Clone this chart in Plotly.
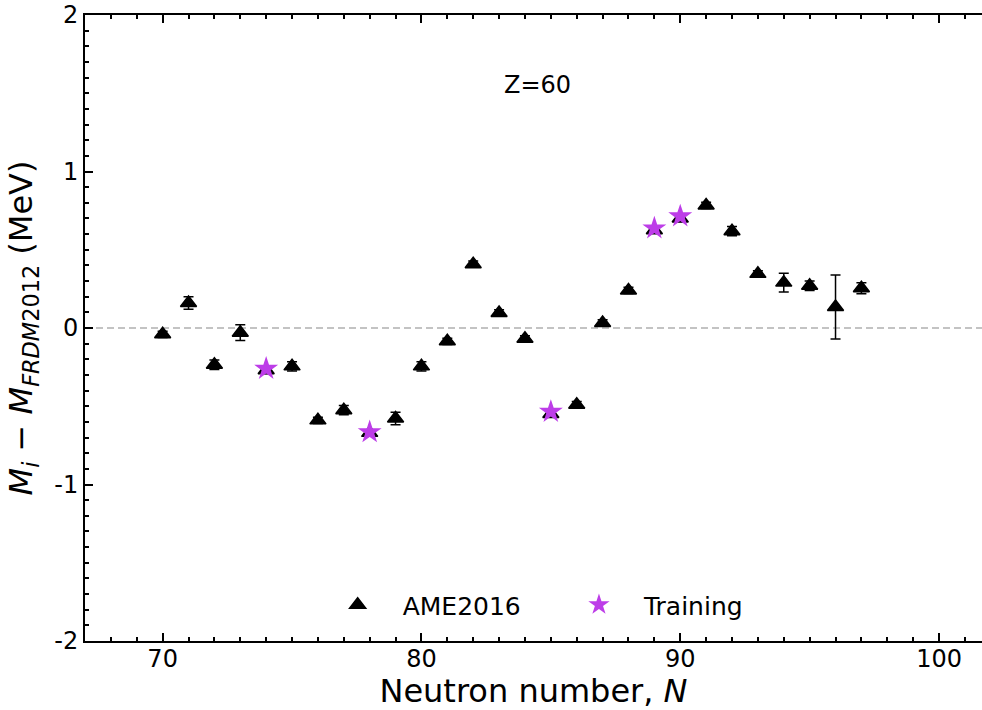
import plotly.graph_objects as go

# ---- data ----
ame_n = [70, 71, 72, 73, 74, 75, 76, 77, 78, 79, 80, 81, 82, 83,
         84, 85, 86, 87, 88, 89, 90, 91, 92, 93, 94, 95, 96, 97]
ame_val = [-0.04, 0.16, -0.235, -0.03, -0.27, -0.245, -0.59, -0.525, -0.67, -0.578,
           -0.245, -0.085, 0.408, 0.096, -0.069, -0.55, -0.49, 0.032, 0.24, 0.625,
           0.70, 0.783, 0.619, 0.346, 0.29, 0.27, 0.134, 0.254]
ame_err = [0.02, 0.04, 0.03, 0.05, 0.02, 0.03, 0.02, 0.03, 0.02, 0.04,
           0.03, 0.02, 0.02, 0.02, 0.02, 0.02, 0.02, 0.02, 0.02, 0.02,
           0.02, 0.02, 0.03, 0.02, 0.06, 0.03, 0.205, 0.035]

train_n = [74, 78, 85, 89, 90]
train_val = [-0.26, -0.665, -0.535, 0.637, 0.714]

y_tickvals = [-2, -1, 0, 1, 2]
y_ticktext = ["-2", "-1", "0", "1", "2"]
x_tickvals = [70, 80, 90, 100]
x_ticktext = ["70", "80", "90", "100"]

FONT = "DejaVu Sans"
STAR = "#bd3de8"

fig = go.Figure()

fig.add_trace(go.Scatter(
    x=ame_n, y=ame_val, mode="markers", name="AME2016",
    marker=dict(symbol="triangle-up", size=14, color="black",
                line=dict(color="black", width=1.5)),
    error_y=dict(type="data", array=ame_err, visible=True, color="black",
                 thickness=1.5, width=5),
    legend="legend",
))

fig.add_trace(go.Scatter(
    x=train_n, y=train_val, mode="markers", name="Training",
    marker=dict(symbol="star", size=18, color=STAR, line=dict(width=0)),
    legend="legend2",
))

fig.add_hline(y=0, line=dict(color="#b0b0b0", width=1.5, dash="7px,4px"), layer="below")

fig.add_annotation(x=84.5, y=1.55, xref="x", yref="y", text="Z=60", showarrow=False,
                   font=dict(family=FONT, size=24, color="black"))

axis_common = dict(
    showline=True, linecolor="black", linewidth=2,
    ticks="inside", tickcolor="black", tickwidth=1.5, ticklen=8,
    showgrid=False, zeroline=False,
    tickfont=dict(family=FONT, size=24, color="black"),
)

fig.update_xaxes(
    range=[67, 101.66], tickmode="array", tickvals=x_tickvals, ticktext=x_ticktext,
    mirror="ticks", ticklabelstandoff=-5,
    minor=dict(ticks="inside", dtick=1, tick0=0, ticklen=4, tickwidth=1.5, tickcolor="black"),
    title=dict(text="Neutron number, <i>N</i>", font=dict(family=FONT, size=32, color="black"),
               standoff=14),
    **axis_common,
)
fig.update_yaxes(
    range=[-2, 2], tickmode="array", tickvals=y_tickvals, ticktext=y_ticktext,
    minor=dict(ticks="inside", dtick=0.1, tick0=0, ticklen=4, tickwidth=1.5, tickcolor="black"),
    title=dict(text="<i>M</i><sub><i>i</i></sub> \u2212 <i>M</i><sub><i>FRDM</i>2012</sub> (MeV)",
               font=dict(family=FONT, size=32, color="black"), standoff=12),
    **axis_common,
)

leg_common = dict(orientation="h", yanchor="middle", xanchor="left",
                  font=dict(family=FONT, size=25, color="black"),
                  bgcolor="rgba(0,0,0,0)", borderwidth=0, itemwidth=80)

fig.update_layout(
    width=982, height=710,
    margin=dict(l=85, r=0, t=15, b=69),
    plot_bgcolor="white", paper_bgcolor="white",
    font=dict(family=FONT, color="black"),
    legend=dict(x=0.2538, y=0.0575, **leg_common),
    legend2=dict(x=0.5228, y=0.0575, **leg_common),
    showlegend=True,
)

fig.write_html("out.html")
